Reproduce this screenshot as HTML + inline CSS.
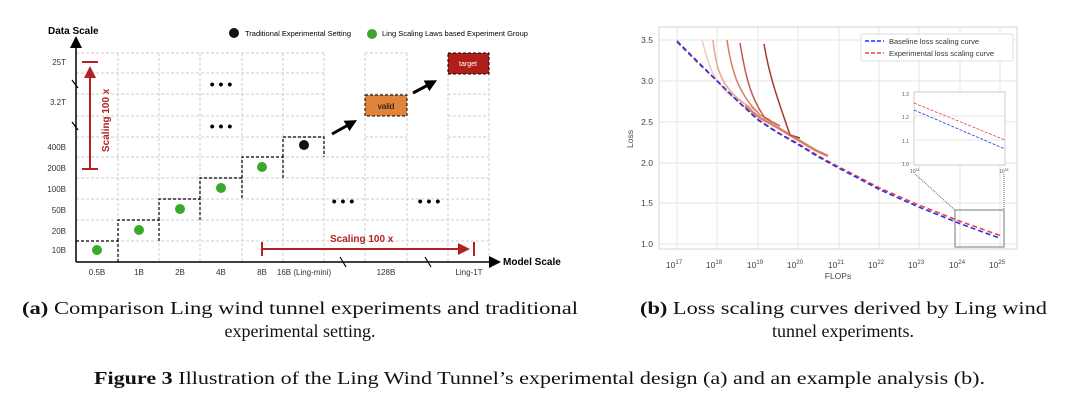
<!DOCTYPE html>
<html><head><meta charset="utf-8"><style>body{margin:0;background:#fff}svg{display:block}</style></head><body>
<svg width="1080" height="411" viewBox="0 0 1080 411" xmlns="http://www.w3.org/2000/svg" font-family="Liberation Sans, sans-serif">
<defs>
<marker id="ab" markerWidth="8" markerHeight="8" refX="4" refY="4" orient="auto"><path d="M0,0 L8,4 L0,8z" fill="#000"/></marker>
<marker id="abt" markerUnits="userSpaceOnUse" markerWidth="12" markerHeight="12" refX="4" refY="6" orient="auto"><path d="M0,0 L12,6 L0,12z" fill="#000"/></marker>
<marker id="ar" markerWidth="6" markerHeight="6" refX="5" refY="3" orient="auto"><path d="M0,0 L6,3 L0,6z" fill="#b22222"/></marker>
</defs>
<!-- LEFT grid -->
<g stroke="#ccc" stroke-dasharray="3,2" stroke-width="1" fill="none">
<path d="M118,53V262M159,53V262M200,53V262M242,53V262M283,53V262M324,53V262M365,53V262M407,53V262M448,53V262M489,53V262"/>
<path d="M76,53H324M365,53H407M448,53H489M76,73H324M76,94H324M365,94H407M448,94H489M76,116H324M448,116H489M76,137H324M365,137H407M448,137H489M76,157H489M76,178H489M76,199H489M76,220H489M76,241H489"/>
</g>
<line x1="76" y1="262" x2="76" y2="42" stroke="#000" stroke-width="1.5" marker-end="url(#ab)"/>
<line x1="76" y1="262" x2="495" y2="262" stroke="#000" stroke-width="1.5" marker-end="url(#ab)"/>
<g stroke="#000" stroke-width="1.2"><path d="M72,80l6,8M72,122l6,8M340,257l6,10M425,257l6,10"/></g>
<text x="48" y="34" font-size="10" font-weight="bold">Data Scale</text>
<text x="503" y="265" font-size="10" font-weight="bold">Model Scale</text>
<g font-size="8" fill="#333" text-anchor="end">
<text x="66" y="65">25T</text><text x="66" y="105">3.2T</text><text x="66" y="150">400B</text><text x="66" y="171">200B</text><text x="66" y="192">100B</text><text x="66" y="213">50B</text><text x="66" y="234">20B</text><text x="66" y="253">10B</text>
</g>
<g font-size="8" fill="#333" text-anchor="middle">
<text x="97" y="275">0.5B</text><text x="139" y="275">1B</text><text x="180" y="275">2B</text><text x="221" y="275">4B</text><text x="262" y="275">8B</text><text x="304" y="275">16B (Ling-mini)</text><text x="386" y="275">128B</text><text x="469" y="275">Ling-1T</text>
</g>
<g stroke="#000" stroke-dasharray="3,2" stroke-width="1.2" fill="none">
<path d="M76,241H118V262M118,241V220H159V241M159,220V199H200V220M200,199V178H242V199M242,178V157H283V178M283,157V137H324V157"/>
</g>
<g fill="#3aa82a"><circle cx="97" cy="250" r="5"/><circle cx="139" cy="230" r="5"/><circle cx="180" cy="209" r="5"/><circle cx="221" cy="188" r="5"/><circle cx="262" cy="167" r="5"/></g>
<circle cx="304" cy="145" r="5" fill="#111"/>
<circle cx="234" cy="33" r="5" fill="#111"/><text x="245" y="36" font-size="7.5">Traditional Experimental Setting</text>
<circle cx="372" cy="34" r="5" fill="#3aa82a"/><text x="382" y="36" font-size="7.5">Ling Scaling Laws based Experiment Group</text>
<g font-size="14" font-weight="bold" text-anchor="middle"><text x="221" y="89">• • •</text><text x="221" y="131">• • •</text><text x="343" y="206">• • •</text><text x="429" y="206">• • •</text></g>
<rect x="365" y="95" width="42" height="21" fill="#e0843c" stroke="#000" stroke-dasharray="3,2"/><text x="386" y="109" font-size="8" text-anchor="middle">valid</text>
<rect x="448" y="53" width="41" height="21" fill="#b01e1a" stroke="#000" stroke-dasharray="3,2"/><text x="468" y="66" font-size="7" text-anchor="middle" fill="#fff">target</text>
<g stroke="#000" stroke-width="3"><line x1="332" y1="134" x2="350" y2="124" marker-end="url(#abt)"/><line x1="413" y1="93" x2="430" y2="84" marker-end="url(#abt)"/></g>
<g stroke="#b22222" stroke-width="2" fill="none"><path d="M82,62H98M82,169H98"/><line x1="90" y1="169" x2="90" y2="68" marker-end="url(#ar)"/><path d="M262,242V256M474,242V256"/><line x1="262" y1="249" x2="468" y2="249" marker-end="url(#ar)"/></g>
<text transform="translate(109,152) rotate(-90)" font-size="10" font-weight="bold" fill="#b22222">Scaling 100 x</text>
<text x="330" y="242" font-size="10" font-weight="bold" fill="#b22222">Scaling 100 x</text>
<!-- RIGHT chart -->
<rect x="659" y="27" width="358" height="222" fill="#fff" stroke="#ddd" stroke-width="1.2"/>
<g stroke="#e4e4e4" stroke-width="1"><path d="M677,27V249M717,27V249M758,27V249M798,27V249M839,27V249M879,27V249M919,27V249M960,27V249M1000,27V249M659,40H1017M659,81H1017M659,122H1017M659,163H1017M659,203H1017M659,244H1017"/></g>
<g font-size="8.5" fill="#444" text-anchor="end"><text x="653" y="43">3.5</text><text x="653" y="84">3.0</text><text x="653" y="125">2.5</text><text x="653" y="166">2.0</text><text x="653" y="206">1.5</text><text x="653" y="247">1.0</text></g>
<g font-size="8.5" fill="#444" text-anchor="middle">
<text x="674" y="268">10<tspan font-size="6" dy="-4">17</tspan></text><text x="714" y="268">10<tspan font-size="6" dy="-4">18</tspan></text><text x="755" y="268">10<tspan font-size="6" dy="-4">19</tspan></text><text x="795" y="268">10<tspan font-size="6" dy="-4">20</tspan></text><text x="836" y="268">10<tspan font-size="6" dy="-4">21</tspan></text><text x="876" y="268">10<tspan font-size="6" dy="-4">22</tspan></text><text x="916" y="268">10<tspan font-size="6" dy="-4">23</tspan></text><text x="957" y="268">10<tspan font-size="6" dy="-4">24</tspan></text><text x="997" y="268">10<tspan font-size="6" dy="-4">25</tspan></text>
</g>
<text x="838" y="279" font-size="8.5" fill="#444" text-anchor="middle">FLOPs</text>
<text transform="translate(633,139) rotate(-90)" font-size="8.5" fill="#444" text-anchor="middle">Loss</text>
<g fill="none" stroke-width="1.5">
<path d="M702,40 C708,62 712,80 730,95 L745,104" stroke="#f2c8b8"/>
<path d="M713,40 C716,70 722,88 745,104 L758,112" stroke="#eba890"/>
<path d="M727,40 C732,75 740,95 760,115 L770,120" stroke="#d97a64"/>
<path d="M740,43 C746,80 752,100 765,118 L780,126" stroke="#c45a48"/>
<path d="M764,44 C770,80 780,105 790,135 L800,138" stroke="#a33a30"/>
<path d="M745,106 L760,118 L775,126 L790,135 L800,141 L815,150 L828,156" stroke="#c8604a" stroke-width="2.5" opacity="0.8"/>
</g>
<polyline fill="none" stroke="#ee4040" stroke-width="1.6" stroke-dasharray="5,3" points="677,42 697,62 717,81 737.6,101 758,119.5 778,132.5 798,143.5 818,155.7 838.6,166.8 859,177.2 879,187.7 899,196.5 919.4,205.3 939.6,213.2 960,221.2 980,228.3 1000,235.5"/>
<polyline fill="none" stroke="#2233ee" stroke-width="1.6" stroke-dasharray="5,3" points="677,41 697,61 717,80.8 737.6,101 758,120 778,133 798,144.4 818,156.7 838.6,168.1 859,178.7 879,189.3 899,198.3 919.4,207.3 939.6,215.4 960,223.6 980,231 1000,238.3"/>
<rect x="861" y="34" width="152" height="27" fill="#fff" stroke="#ddd" rx="2"/>
<line x1="865" y1="41" x2="884" y2="41" stroke="#2233ee" stroke-width="1.6" stroke-dasharray="4,2"/><text x="889" y="44" font-size="7.5" fill="#333">Baseline loss scaling curve</text>
<line x1="865" y1="53" x2="884" y2="53" stroke="#ee4040" stroke-width="1.6" stroke-dasharray="4,2"/><text x="889" y="56" font-size="7.5" fill="#333">Experimental loss scaling curve</text>
<rect x="955" y="210" width="49" height="37" fill="none" stroke="#777" stroke-width="1"/>
<g stroke="#666" stroke-dasharray="1,1"><line x1="915" y1="174" x2="955" y2="210"/><line x1="1004" y1="174" x2="1004" y2="210"/></g>
<rect x="914" y="92" width="91" height="73" fill="#fff" stroke="#ccc"/>
<g stroke="#e6e6e6"><path d="M914,116H1005M914,140H1005"/></g>
<g font-size="5" fill="#555"><text x="902" y="96">1.3</text><text x="902" y="119">1.2</text><text x="902" y="143">1.1</text><text x="902" y="166">1.0</text><text x="910" y="173">10<tspan font-size="3.5" dy="-2">24</tspan></text><text x="999" y="173">10<tspan font-size="3.5" dy="-2">25</tspan></text></g>
<line x1="914" y1="103" x2="1005" y2="140" stroke="#ee4040" stroke-width="0.8" stroke-dasharray="3,1.5"/>
<line x1="914" y1="110" x2="1005" y2="149" stroke="#2233ee" stroke-width="0.8" stroke-dasharray="3,1.5"/>
<g font-family="Liberation Serif, serif" font-size="18" fill="#111">
<text x="22" y="314" textLength="556" lengthAdjust="spacingAndGlyphs"><tspan font-weight="bold">(a)</tspan>  Comparison Ling wind tunnel experiments and traditional</text>
<text x="300" y="337" text-anchor="middle">experimental setting.</text>
<text x="640" y="314" textLength="407" lengthAdjust="spacingAndGlyphs"><tspan font-weight="bold">(b)</tspan>  Loss scaling curves derived by Ling wind</text>
<text x="843" y="337" text-anchor="middle">tunnel experiments.</text>
<text x="94" y="384" textLength="891" lengthAdjust="spacingAndGlyphs"><tspan font-weight="bold">Figure 3</tspan>  Illustration of the Ling Wind Tunnel’s experimental design (a) and an example analysis (b).</text>
</g>
</svg>
</body></html>
